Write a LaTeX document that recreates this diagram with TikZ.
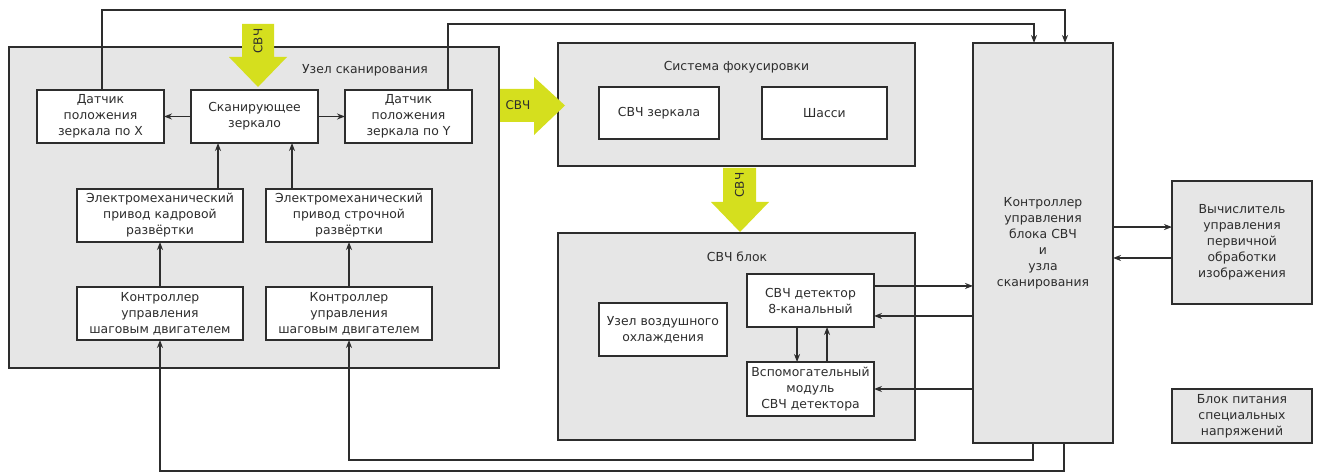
\documentclass[tikz,border=0pt]{standalone}
\usepackage{fontspec}
\setmainfont{DejaVu Sans}
\usetikzlibrary{arrows.meta,calc}
\definecolor{mwyellow}{RGB}{213,223,30}
\definecolor{panelgray}{RGB}{230,230,230}
\definecolor{edge}{RGB}{45,45,45}
\tikzset{
  panel/.style={draw=edge,line width=1.2pt,fill=panelgray,inner sep=0pt,outer sep=0pt},
  block/.style={draw=edge,line width=1.2pt,fill=white,align=center,inner sep=0pt,outer sep=0pt,
    minimum width=95.25pt,minimum height=39.75pt},
  wideblock/.style={block,minimum width=124.5pt},
  sig/.style={draw=edge,line width=1.1pt,-{Stealth[length=6pt,width=4.5pt]}},
  mwave/.style={fill=mwyellow,draw=none},
  mwtext/.style={font=\fontsize{9}{9}\selectfont,text=edge}
}

\begin{document}
\begin{tikzpicture}[x=0.75pt,y=-0.75pt,font=\fontsize{9.3}{12}\selectfont,text=edge]
\useasboundingbox (0,0) rectangle (1317,474);

% scanning unit
\node (scan) [panel,minimum width=367.5pt,minimum height=240.75pt] at (254,207.5) {};
\node (scanT) at (365,70) {Узел сканирования};
\node (sensX) [block] at (100.5,116.5) {Датчик\\положения\\зеркала по X};
\node (mirror) [block] at (254.5,116.5) {Сканирующее\\зеркало};
\node (sensY) [block] at (408.5,116.5) {Датчик\\положения\\зеркала по Y};
\node (driveF) [wideblock] at (160,215.5) {Электромеханический\\привод кадровой\\развёртки};
\node (driveL) [wideblock] at (349,215.5) {Электромеханический\\привод строчной\\развёртки};
\node (ctrlF) [wideblock] at (160,313.5) {Контроллер\\управления\\шаговым двигателем};
\node (ctrlL) [wideblock] at (349,313.5) {Контроллер\\управления\\шаговым двигателем};

% focusing system
\node (focus) [panel,minimum width=267.75pt,minimum height=92.25pt] at (736.5,104.5) {};
\node (focusT) at (736.5,67) {Система фокусировки};
\node (mirrors) [block,minimum width=90pt,minimum height=39pt] at (659,113) {СВЧ зеркала};
\node (chassis) [block,minimum width=93.75pt,minimum height=39pt] at (824.5,113) {Шасси};

% microwave unit
\node (mwunit) [panel,minimum width=267.75pt,minimum height=155.25pt] at (736.5,336.5) {};
\node (mwunitT) at (737,257) {СВЧ блок};
\node (cool) [block,minimum width=96pt] at (663,329.5) {Узел воздушного\\охлаждения};
\node (det) [block] at (810.5,300.5) {СВЧ детектор\\8-канальный};
\node (aux) [block,minimum height=40.5pt] at (810.5,389) {Вспомогательный\\модуль\\СВЧ детектора};

% controller and the rest
\node (main) [panel,align=center,minimum width=105pt,minimum height=300pt] at (1043,243)
  {Контроллер\\управления\\блока СВЧ\\и\\узла\\сканирования};
\node (calc) [panel,align=center,minimum width=105pt,minimum height=92.25pt] at (1242,242.5)
  {Вычислитель\\управления\\первичной\\обработки\\изображения};
\node (power) [panel,align=center,minimum width=105pt,minimum height=40.5pt] at (1242,416)
  {Блок питания\\специальных\\напряжений};

% microwave beams
\fill[mwave] (242,24) -- (274,24) -- (274,57) -- (287,57) -- (258,87) -- (229,57) -- (242,57) -- cycle;
\node (beamA) [mwtext,rotate=90] at (258,41) {СВЧ};
\fill[mwave] (500,89) -- (534,89) -- (534,77) -- (565,105.5) -- (534,135) -- (534,122) -- (500,122) -- cycle;
\node (beamB) [mwtext] at (518,105.5) {СВЧ};
\fill[mwave] (723,168) -- (756,168) -- (756,202) -- (769,202) -- (740,232) -- (711,202) -- (723,202) -- cycle;
\node (beamC) [mwtext,rotate=90] at (739.5,185) {СВЧ};

% connections inside the scanning unit
\draw[sig] (mirror.west) -- (sensX.east);
\draw[sig] (mirror.east) -- (sensY.west);
\draw[sig] ([xshift=43.5pt]driveF.north) -- ([xshift=43.5pt]driveF.north |- mirror.south);
\draw[sig] ([xshift=-42.75pt]driveL.north) -- ([xshift=-42.75pt]driveL.north |- mirror.south);
\draw[sig] (ctrlF.north) -- (driveF.south);
\draw[sig] (ctrlL.north) -- (driveL.south);

% sensor feedback over the top
\coordinate (topF) at (102,10);
\coordinate (topL) at (448,24);
\draw[sig] (sensX.north -| topF) -- (topF) -| ([xshift=16.5pt]main.north);
\draw[sig] (sensY.north -| topL) -- (topL) -| ([xshift=-6.75pt]main.north);

% stepper control along the bottom
\coordinate (busF) at (160,471);
\coordinate (busL) at (349,460);
\draw[sig] ([xshift=15.75pt]main.south) |- (busF) -- (ctrlF.south);
\draw[sig] ([xshift=-7.5pt]main.south) |- (busL) -- (ctrlL.south);

% detector links
\draw[sig] ([yshift=10.9pt]det.east) -- ([yshift=10.9pt]det.east -| main.west);
\draw[sig] ([yshift=-11.6pt]det.east -| main.west) -- ([yshift=-11.6pt]det.east);
\draw[sig] (aux.east -| main.west) -- (aux.east);
\draw[sig] ([xshift=-10.1pt]det.south) -- ([xshift=-10.1pt]aux.north);
\draw[sig] ([xshift=12.4pt]aux.north) -- ([xshift=12.4pt]det.south);

% image processor
\draw[sig] ([yshift=11.6pt]calc.west -| main.east) -- ([yshift=11.6pt]calc.west);
\draw[sig] ([yshift=-11.6pt]calc.west) -- ([yshift=-11.6pt]calc.west -| main.east);

\end{tikzpicture}
\end{document}
